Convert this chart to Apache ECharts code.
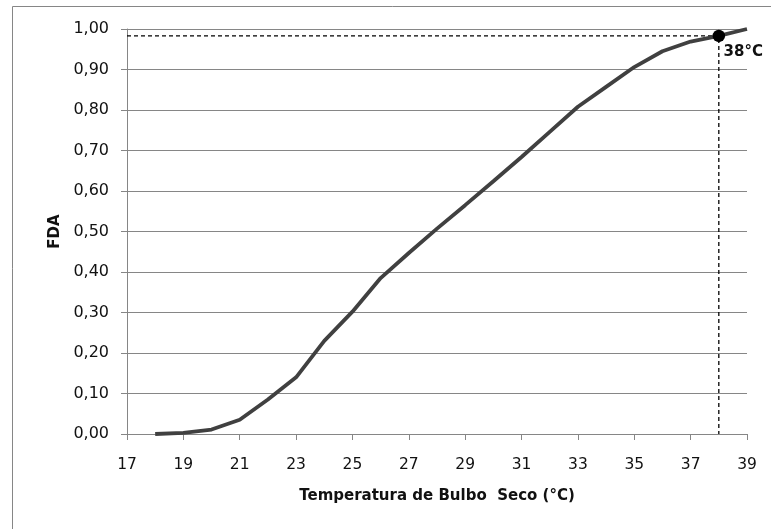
<!DOCTYPE html>
<html>
<head>
<meta charset="utf-8">
<title>FDA - Temperatura de Bulbo Seco</title>
<script src="https://cdn.jsdelivr.net/npm/echarts@6/dist/echarts.min.js"></script>
<style>
  html, body { margin: 0; padding: 0; background: #ffffff; }
  #chart { width: 771px; height: 529px; }
</style>
</head>
<body>
<div id="chart"></div>
<script>
// Dry-bulb temperature (°C) and cumulative distribution (FDA)
const temperatures = [18, 19, 20, 21, 22, 23, 24, 25, 26, 27, 28, 29, 30, 31, 32, 33, 34, 35, 36, 37, 38, 39];
const fdaValues = [0.000, 0.003, 0.011, 0.035, 0.085, 0.140, 0.230, 0.302, 0.385, 0.447, 0.507, 0.565, 0.624, 0.684, 0.746, 0.808, 0.857, 0.906, 0.945, 0.969, 0.983, 1.000];

// Design point highlighted on the curve
const designTemp = 38;
const designFda = 0.983;
const designLabel = '38°C';

const xTickMin = 17, xTickMax = 39, xTickStep = 2;
const yTickMin = 0, yTickMax = 1, yTickStep = 0.1;

const axisGray = '#868686';
const textColor = '#111111';
const fontFamily = 'DejaVu Sans';

const chart = echarts.init(document.getElementById('chart'), null, { renderer: 'canvas' });

chart.setOption({
  animation: false,
  backgroundColor: '#ffffff',
  graphic: [{
    type: 'rect',
    silent: true,
    shape: { x: 12.5, y: 6.5, width: 820, height: 620 },
    style: { fill: 'none', stroke: axisGray, lineWidth: 1 }
  }],
  grid: { left: 127, right: 24, top: 29, bottom: 95 },
  xAxis: {
    type: 'value',
    min: xTickMin,
    max: xTickMax,
    interval: xTickStep,
    name: 'Temperatura de Bulbo  Seco (°C)',
    nameLocation: 'middle',
    nameGap: 55,
    nameTextStyle: { fontFamily: fontFamily, fontSize: 15, fontWeight: 'bold', color: textColor },
    axisLine: { show: true, lineStyle: { color: axisGray, width: 1 } },
    axisTick: { show: true, length: 6, lineStyle: { color: axisGray, width: 1 } },
    axisLabel: { margin: 23, fontFamily: fontFamily, fontSize: 15.5, color: textColor },
    splitLine: { show: false }
  },
  yAxis: {
    type: 'value',
    min: yTickMin,
    max: yTickMax,
    interval: yTickStep,
    name: 'FDA',
    nameLocation: 'middle',
    nameGap: 64,
    nameTextStyle: { fontFamily: fontFamily, fontSize: 15, fontWeight: 'bold', color: textColor },
    axisLine: { show: true, lineStyle: { color: axisGray, width: 1 } },
    axisTick: { show: true, length: 6, lineStyle: { color: axisGray, width: 1 } },
    axisLabel: {
      margin: 18,
      fontFamily: fontFamily,
      fontSize: 16,
      color: textColor,
      formatter: v => v.toFixed(2).replace('.', ',')
    },
    splitLine: { show: true, lineStyle: { color: axisGray, width: 1 } }
  },
  series: [
    {
      name: 'FDA',
      type: 'line',
      data: temperatures.map((t, i) => [t, fdaValues[i]]),
      showSymbol: false,
      smooth: false,
      lineStyle: { color: '#404040', width: 3.8 },
      z: 3
    },
    {
      name: 'guide',
      type: 'line',
      data: [[xTickMin, designFda], [designTemp, designFda], [designTemp, yTickMin]],
      showSymbol: false,
      lineStyle: { color: '#000000', width: 1.3, type: [4, 3] },
      z: 2
    },
    {
      name: 'design',
      type: 'scatter',
      data: [[designTemp, designFda]],
      symbol: 'circle',
      symbolSize: 12.5,
      itemStyle: { color: '#000000', opacity: 1 },
      label: {
        show: true,
        formatter: designLabel,
        position: [11, 15],
        align: 'left',
        verticalAlign: 'top',
        fontFamily: fontFamily,
        fontSize: 15,
        fontWeight: 'bold',
        color: textColor,
        textBorderWidth: 0,
        opacity: 1
      },
      z: 4
    }
  ]
});
</script>
</body>
</html>
